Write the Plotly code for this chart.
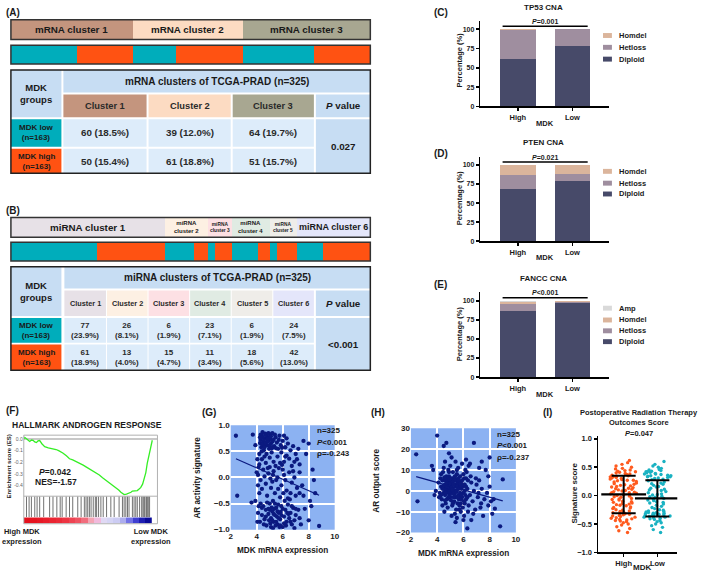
import plotly.graph_objects as go

W, H = 709, 577
FONT = "Arial, Liberation Sans, Helvetica, sans-serif"
TEAL = "#00adbb"
ORANGE = "#ff5212"
HEAD = "#c7ddf3"
CELL = "#ddecfa"
DARK = "#1a1a1a"

# ------------------------------------------------------------------ data
group_labels = ["MDK low<br>(n=163)", "MDK high<br>(n=163)"]

mrna_bar_labels = ["mRNA cluster 1", "mRNA cluster 2", "mRNA cluster 3"]
mrna_clusters = ["Cluster 1", "Cluster 2", "Cluster 3"]
mrna_colors = ["#c4957e", "#fcdbc2", "#a8a791"]
mrna_low = [60, 39, 64]
mrna_high = [50, 61, 51]
mrna_low_pct = ["18.5%", "12.0%", "19.7%"]
mrna_high_pct = ["15.4%", "18.8%", "15.7%"]
mrna_p = "0.027"
mrna_title = "mRNA clusters of TCGA-PRAD (n=325)"

mirna_bar_labels = ["miRNA cluster 1", "miRNA<br>cluster 2", "miRNA<br>cluster 3",
                    "miRNA<br>cluster 4", "miRNA<br>cluster 5", "miRNA cluster 6"]
mirna_clusters = ["Cluster 1", "Cluster 2", "Cluster 3", "Cluster 4", "Cluster 5", "Cluster 6"]
mirna_colors = ["#e7e1e7", "#fdf0e3", "#fde0e4", "#e0ebe3", "#efede9", "#e4e6fa"]
mirna_low = [77, 26, 6, 23, 6, 24]
mirna_high = [61, 13, 15, 11, 18, 42]
mirna_low_pct = ["23.9%", "8.1%", "1.9%", "7.1%", "1.9%", "7.5%"]
mirna_high_pct = ["18.9%", "4.0%", "4.7%", "3.4%", "5.6%", "13.0%"]
mirna_p = "&lt;0.001"
mirna_title = "miRNA clusters of TCGA-PRAD (n=325)"

cna_groups = ["High", "Low"]
cna_names = ["Diploid", "Hetloss", "Homdel", "Amp"]
cna_colors = ["#474a69", "#9f8e9f", "#dbb59c", "#d9d9d9"]
tp53_diploid = [61, 78]
tp53_hetloss = [37.5, 22]
tp53_homdel = [1.5, 0]
pten_diploid = [69, 79]
pten_hetloss = [18, 9]
pten_homdel = [13, 12]
fancc_diploid = [86, 97]
fancc_hetloss = [10, 1]
fancc_homdel = [3, 1.5]
fancc_amp = [1, 0.5]

es_rank = [0.0, 0.008, 0.03, 0.046, 0.06, 0.072, 0.085, 0.098, 0.11, 0.123,
           0.14, 0.162, 0.19, 0.213, 0.23, 0.25, 0.27, 0.302, 0.33, 0.354,
           0.379, 0.40, 0.431, 0.46, 0.482, 0.52, 0.559, 0.585, 0.61, 0.64,
           0.662, 0.69, 0.713, 0.735, 0.752, 0.765, 0.777, 0.795, 0.815, 0.83,
           0.841, 0.86, 0.879, 0.895, 0.905, 0.92, 0.931, 0.945, 0.956, 0.967,
           0.977, 0.987, 0.995]
es_score = [0.0, 0.015, -0.005, -0.02, -0.008, -0.01, -0.025, -0.03, -0.015, -0.012,
            -0.04, -0.065, -0.075, -0.08, -0.085, -0.09, -0.1, -0.12, -0.145, -0.17,
            -0.18, -0.19, -0.21, -0.225, -0.24, -0.265, -0.29, -0.31, -0.335, -0.36,
            -0.38, -0.40, -0.42, -0.44, -0.46, -0.475, -0.48, -0.475, -0.47, -0.46,
            -0.45, -0.45, -0.445, -0.43, -0.42, -0.39, -0.35, -0.29, -0.21, -0.15,
            -0.09, -0.04, -0.01]
es_hits = [0.021, 0.041, 0.059, 0.085, 0.103, 0.123, 0.154, 0.2, 0.226, 0.256,
           0.282, 0.297, 0.328, 0.354, 0.379, 0.418, 0.444, 0.469, 0.482, 0.495,
           0.508, 0.521, 0.538, 0.554, 0.564, 0.579, 0.597, 0.615, 0.641, 0.674,
           0.7, 0.738, 0.764, 0.777, 0.79, 0.803, 0.815, 0.841, 0.854, 0.867,
           0.879, 0.897, 0.913, 0.923, 0.931, 0.938, 0.949, 0.956, 0.964, 0.974]
rank_metric = [1.0, 0.98, 0.96, 0.93, 0.9, 0.87, 0.84, 0.8, 0.76, 0.7,
               0.6, 0.52, 0.43, 0.38, 0.33, 0.27, 0.2, 0.12, 0.05, 0.0]
gsea_p = "<i>P</i>=0.042"
gsea_nes = "NES=-1.57"

ar_activity_points = [
    (2.4, 0.80), (2.5, -0.35), (3.7, 0.82), (3.9, 0.62), (3.6, -0.48), (3.9, -0.45), (4.1, -0.68),
    (8.8, -0.93), (8.5, -0.30), (8.4, -0.05), (8.3, 0.15), (8.0, 0.65), (8.1, -0.45), (8.2, -0.55),
    (8.0, -0.82), (7.6, 0.70), (7.8, 0.45), (7.7, -0.60), (7.4, -0.90), (6.9, -0.97), (7.2, 0.55),
    (7.5, -0.15),
    (4.3, 0.72), (4.4, 0.80), (4.5, 0.68), (4.6, 0.75), (4.7, 0.62), (4.8, 0.78), (4.9, 0.70),
    (5.0, 0.83), (5.1, 0.65), (5.2, 0.85), (5.3, 0.72), (4.35, 0.58), (4.55, 0.52), (4.75, 0.45),
    (4.95, 0.55), (5.15, 0.48), (5.35, 0.60), (5.45, 0.77), (5.55, 0.67), (5.65, 0.55), (5.75, 0.80),
    (5.85, 0.62), (6.0, 0.70), (6.2, 0.58), (6.4, 0.65), (6.6, 0.52), (6.8, 0.60), (7.0, 0.45),
    (4.45, 0.87), (4.65, 0.84), (4.85, 0.62), (5.05, 0.74), (5.25, 0.58), (4.25, 0.66), (4.5, 0.60),
    (5.6, 0.40), (5.9, 0.48), (6.3, 0.42), (6.5, 0.36), (4.6, 0.40), (4.4, 0.35), (5.0, 0.38),
    (5.3, 0.30), (4.2, 0.25), (4.7, 0.28), (5.8, 0.28), (6.1, 0.30), (6.7, 0.22), (7.1, 0.35),
    (7.3, 0.25),
    (4.1, 0.05), (4.3, -0.05), (4.5, 0.15), (4.7, -0.12), (4.9, 0.08), (5.1, -0.20), (5.3, 0.12),
    (5.5, -0.05), (5.7, 0.18), (5.9, -0.15), (6.1, 0.05), (6.3, -0.25), (6.5, 0.10), (6.7, -0.10),
    (6.9, 0.0), (7.1, -0.20), (7.3, -0.30), (4.2, -0.30), (4.4, -0.22), (4.6, 0.02), (4.8, -0.35),
    (5.0, 0.20), (5.2, -0.08), (5.4, -0.30), (5.6, 0.0), (5.8, -0.38), (6.0, 0.15), (6.2, -0.05),
    (6.4, -0.40), (6.6, -0.30), (6.8, 0.12), (7.0, -0.35), (5.05, -0.02), (5.45, 0.22), (5.25, 0.05),
    (4.85, 0.18), (5.65, -0.22), (6.05, -0.30), (4.15, 0.20), (5.95, 0.24),
    (4.5, -0.55), (4.7, -0.62), (4.9, -0.70), (5.0, -0.50), (5.1, -0.78), (5.2, -0.65), (5.3, -0.85),
    (5.4, -0.72), (5.5, -0.58), (5.6, -0.90), (5.7, -0.68), (5.8, -0.80), (5.9, -0.55), (6.0, -0.95),
    (6.1, -0.75), (6.2, -0.62), (6.3, -0.85), (6.4, -0.52), (6.5, -0.78), (6.6, -0.68), (6.7, -0.90),
    (6.8, -0.58), (7.0, -0.72), (7.2, -0.62), (4.6, -0.80), (4.8, -0.48), (5.05, -0.88), (5.25, -0.45),
    (5.35, -0.60), (5.55, -0.75), (5.75, -0.95), (5.85, -0.66), (5.15, -0.58), (4.95, -0.82),
    (4.4, -0.72), (4.3, -0.50), (6.25, -0.92), (6.45, -0.70), (6.9, -0.82), (7.3, -0.78), (5.45, -0.92),
    (5.65, -0.52), (6.15, -0.45), (6.55, -0.42), (4.75, -0.92),
    (4.3, 0.82), (4.4, 0.64), (4.5, 0.76), (4.6, 0.58), (4.7, 0.82), (4.8, 0.69), (4.9, 0.85),
    (5.0, 0.61), (5.1, 0.79), (5.2, 0.69), (5.4, 0.82), (5.5, 0.56), (5.7, 0.72), (4.25, 0.77),
    (4.55, 0.70), (4.85, 0.74), (5.15, 0.56), (4.65, 0.66), (4.38, 0.50), (6.1, 0.80), (6.3, 0.75),
    (5.95, 0.57),
    (5.0, -0.62), (5.1, -0.95), (5.2, -0.82), (5.3, -0.70), (5.4, -0.50), (5.5, -0.85), (5.6, -0.65),
    (5.7, -0.78), (5.8, -0.92), (5.9, -0.72), (6.0, -0.60), (6.1, -0.88), (4.9, -0.60), (4.7, -0.75),
    (4.55, -0.90), (6.35, -0.68), (6.6, -0.85), (5.25, -0.97), (4.4, -0.58), (4.25, -0.85),
    (4.2, 0.45), (4.1, -0.15), (4.05, 0.35), (4.15, -0.55), (4.0, 0.10), (4.05, -0.85), (6.2, 0.40),
    (6.7, -0.55), (6.9, 0.30), (7.0, -0.60), (7.3, 0.10), (7.6, -0.35),
]
ar_activity_fit = (0.62, -0.109)   # intercept, slope
ar_activity_stats = ["n=325", "<i>P</i>&lt;0.001", "ρ=-0.243"]

ar_output_points = [
    (2.4, 17.5), (2.5, -5), (4.0, 26.5), (4.7, 23), (4.5, 21.5), (6.8, 23), (8.0, 16), (9.0, 5.5),
    (8.8, -17), (6.3, -18), (8.2, -11), (8.4, -8.5), (3.6, 12), (3.7, 10), (7.7, 10), (7.9, 7),
    (8.1, -5), (8.3, -4), (7.5, -12), (5.4, -15), (6.0, -14), (5.1, -12), (4.9, 18), (5.1, 16),
    (4.6, 14), (6.2, 15), (6.5, 13), (7.2, 11), (7.4, 14), (3.9, 0), (3.8, -2),
    (4.3, 2), (4.4, 5), (4.5, -1), (4.6, 3), (4.7, 7), (4.8, 0), (4.9, 4), (5.0, -3), (5.1, 6),
    (5.2, 1), (5.3, -5), (5.4, 3), (5.5, 8), (5.6, -2), (5.7, 2), (5.8, -6), (5.9, 5), (6.0, -1),
    (6.1, 3), (6.2, -4), (6.3, 1), (6.4, -7), (4.35, -4), (4.45, 9), (4.55, 1), (4.65, -6),
    (4.75, 4), (4.85, 10), (4.95, -2), (5.05, 2), (5.15, -7), (5.25, 6), (5.35, 0), (5.45, -9),
    (5.55, 4), (5.65, -4), (5.75, 7), (5.85, 1), (5.95, -8), (6.05, 6), (6.15, -2), (6.25, 9),
    (6.35, -10), (4.25, 6), (4.4, -7), (4.5, 11), (4.6, -2), (4.7, 1), (4.8, -8), (4.9, 7),
    (5.0, 12), (5.1, -1), (5.2, 9), (5.3, 3), (5.4, -3), (5.5, 0), (5.6, 11), (5.7, -7), (5.8, 4),
    (5.9, -3), (6.0, 8), (6.1, -6), (6.2, 2), (6.5, -2), (6.6, 4), (6.7, -5), (6.8, 0), (6.9, -9),
    (7.0, 3), (7.1, -3), (7.2, 5), (7.3, -8), (7.4, 1), (7.6, -4), (6.55, 7), (6.75, -11),
    (6.95, 6), (7.15, -1), (7.35, -6), (4.2, -1), (4.3, 8), (4.55, -10), (4.75, -4), (4.95, 1),
    (5.15, 3), (5.35, -11), (5.55, -6), (5.75, -1), (5.95, 2), (6.15, 10), (6.35, 5), (4.65, 5),
    (4.85, -1), (5.05, 5), (5.25, -3), (5.45, 2), (5.65, 1), (5.85, -4), (6.05, -12), (5.0, 0),
    (5.3, 5), (5.6, 3), (4.8, 3), (5.2, -1), (5.5, -13), (5.8, -10), (6.4, 12), (4.1, 4),
    (4.15, -3), (7.8, -1), (7.9, -7), (8.0, 2), (6.6, -14), (5.9, 13), (5.4, 14),
    (4.5, 2.5), (4.6, 0.5), (4.7, 3.5), (4.8, 5.5), (4.9, -0.5), (5.0, 3.5), (5.1, 1.5), (5.2, 4.5),
    (5.3, -1.5), (5.4, 5.5), (5.5, 2), (5.6, 6), (5.7, -2.5), (5.8, 2.5), (4.55, 6.5), (4.65, -1),
    (4.75, 2), (4.85, -3), (4.95, 5.5), (5.05, -4.5), (5.15, 0.5), (5.25, 3), (5.35, 7), (5.45, -0.5),
    (5.55, -3), (5.65, 5), (5.75, 3.5), (5.85, -2), (4.4, 1), (4.3, -2), (6.0, 3), (6.1, 0), (6.2, 6),
    (6.3, -3), (4.9, 9), (5.2, -6), (5.5, 10), (5.7, -9), (4.6, -4.5), (6.05, -5),
]
ar_output_fit = (11.0, -1.75)
ar_output_stats = ["n=325", "<i>P</i>&lt;0.001", "ρ=-0.237"]

radiation_high = [0.62, 0.58, 0.55, 0.52, 0.50, 0.48, 0.47, 0.45, 0.44, 0.42, 0.41, 0.40, 0.38, 0.37,
                  0.36, 0.35, 0.34, 0.33, 0.32, 0.31, 0.30, 0.29, 0.28, 0.27, 0.26, 0.25, 0.24, 0.22,
                  0.21, 0.20, 0.19, 0.18, 0.16, 0.15, 0.14, 0.13, 0.12, 0.11, 0.10, 0.09, 0.08, 0.07,
                  0.06, 0.05, 0.04, 0.03, 0.02, 0.01, 0.00, -0.01, -0.02, -0.03, -0.05, -0.06, -0.07,
                  -0.08, -0.10, -0.11, -0.12, -0.13, -0.15, -0.16, -0.17, -0.18, -0.20, -0.21, -0.22,
                  -0.23, -0.25, -0.26, -0.27, -0.28, -0.30, -0.31, -0.32, -0.33, -0.34, -0.35, -0.36,
                  -0.37, -0.38, -0.39, -0.40, -0.41, -0.42, -0.43, -0.44, -0.45, -0.46, -0.48, -0.50,
                  -0.52, -0.55, -0.58, -0.62, -0.65, 0.39, 0.43, 0.27, -0.29, 0.33, 0.05, -0.14, 0.17]
radiation_low = [0.60, 0.55, 0.52, 0.50, 0.48, 0.46, 0.45, 0.44, 0.43, 0.42, 0.41, 0.40, 0.39, 0.38,
                 0.37, 0.36, 0.35, 0.34, 0.33, 0.32, 0.31, 0.30, 0.28, 0.26, 0.24, 0.22, 0.20, 0.18,
                 0.15, 0.13, 0.11, 0.09, 0.07, 0.05, 0.03, 0.01, -0.01, -0.03, -0.05, -0.07, -0.09,
                 -0.11, -0.13, -0.15, -0.17, -0.19, -0.21, -0.23, -0.25, -0.27, -0.28, -0.29, -0.30,
                 -0.31, -0.31, -0.32, -0.32, -0.33, -0.33, -0.34, -0.34, -0.35, -0.35, -0.36, -0.36,
                 -0.37, -0.38, -0.39, -0.40, -0.41, -0.42, -0.44, -0.46, -0.48, -0.50, -0.53, -0.56,
                 -0.60, -0.65, 0.35, 0.38, 0.42, 0.29, 0.33, -0.38, -0.30, -0.26, -0.12, 0.02, 0.16,
                 -0.08, 0.21, -0.02, 0.10]
radiation_mean = [0.02, -0.05]
radiation_sd = [0.33, 0.32]

# ------------------------------------------------------------------ helpers
fig = go.Figure()
shapes, anns, lay = [], [], {}


def PX(p):
    return p / W


def PY(p):
    return 1 - p / H


def ax_names(n):
    s = "" if n == 1 else str(n)
    return "xaxis" + s, "yaxis" + s, "x" + s, "y" + s


def make_axes(n, x0, x1, y0, y1, xa=None, ya=None):
    xn, yn, xr, yr = ax_names(n)
    xd = dict(visible=False, fixedrange=True, showgrid=False, zeroline=False)
    xd.update(xa or {})
    xd.update(domain=[PX(x0), PX(x1)], anchor=yr)
    yd = dict(visible=False, fixedrange=True, showgrid=False, zeroline=False)
    yd.update(ya or {})
    yd.update(domain=[PY(y1), PY(y0)], anchor=xr)
    lay[xn] = xd
    lay[yn] = yd
    return xr, yr


def txt(x, y, s, size=8, xanchor="center", yanchor="middle", color=DARK, angle=0,
        bold=True, xref="paper", yref="paper", align="center"):
    if xref == "paper":
        x = PX(x)
    if yref == "paper":
        y = PY(y)
    anns.append(dict(x=x, y=y, xref=xref, yref=yref, text=s, showarrow=False,
                     xanchor=xanchor, yanchor=yanchor, textangle=angle, align=align,
                     borderpad=0,
                     font=dict(family=FONT, size=size, color=color,
                               weight="bold" if bold else "normal")))


def rect(x0, y0, x1, y1, fill, line_color=None, lw=0):
    shapes.append(dict(type="rect", xref="paper", yref="paper",
                       x0=PX(x0), x1=PX(x1), y0=PY(y1), y1=PY(y0),
                       fillcolor=fill, layer="above",
                       line=dict(width=lw, color=line_color or "rgba(0,0,0,0)")))


def cell(x0, y0, x1, y1, fill, s=None, size=8.5, color=DARK, bold=True):
    rect(x0, y0, x1, y1, fill)
    if s is not None:
        txt((x0 + x1) / 2, (y0 + y1) / 2, s, size=size, color=color, bold=bold)


def tick_font(size=7.5):
    return dict(family=FONT, size=size, color=DARK, weight="bold")


# ------------------------------------------------------------------ A / B strips
def cluster_bar(n, y0, y1, totals, colors, labels, sizes):
    xr, yr = make_axes(n, 9, 372, y0, y1, xa=dict(range=[0, sum(totals)]),
                       ya=dict(range=[-0.5, 0.5]))
    start = 0
    for t, c, lab, fs in zip(totals, colors, labels, sizes):
        fig.add_trace(go.Bar(x=[t], y=[0], orientation="h", width=1,
                             marker=dict(color=c, line=dict(width=0)),
                             xaxis=xr, yaxis=yr, showlegend=False, hoverinfo="skip"))
        txt(start + t / 2, 0, lab, size=fs, xref=xr, yref=yr)
        start += t
    shapes.append(dict(type="rect", xref=xr + " domain", yref=yr + " domain", x0=0, x1=1,
                       y0=0, y1=1, line=dict(color="#333", width=1.5), layer="above"))


def group_strip(n, y0, y1, lows, highs):
    total = sum(lows) + sum(highs)
    xr, yr = make_axes(n, 9, 372, y0, y1, xa=dict(range=[0, total]),
                       ya=dict(range=[-0.5, 0.5]))
    for lo, hi in zip(lows, highs):
        for v, c in ((lo, TEAL), (hi, ORANGE)):
            fig.add_trace(go.Bar(x=[v], y=[0], orientation="h", width=1,
                                 marker=dict(color=c, line=dict(width=0)),
                                 xaxis=xr, yaxis=yr, showlegend=False, hoverinfo="skip"))
    shapes.append(dict(type="rect", xref=xr + " domain", yref=yr + " domain", x0=0, x1=1,
                       y0=0, y1=1, line=dict(color="#333", width=1.5), layer="above"))


def table(cols, rows, title, clusters, ccolors, lows, lows_pct, highs, highs_pct, pval,
          sub_size, val_size, two_line):
    gx0, gx1 = cols[0]
    cell(gx0, rows[0][0], gx1, rows[1][1], HEAD, "MDK<br>groups", 9.5)
    cell(cols[1][0], rows[0][0], cols[-1][1], rows[0][1], HEAD, title, 10)
    sep = "<br>" if two_line else " "
    for i, name in enumerate(clusters):
        c0, c1 = cols[i + 1]
        cell(c0, rows[1][0], c1, rows[1][1], ccolors[i], name, sub_size, color="#2a2a2a")
        cell(c0, rows[2][0], c1, rows[2][1], CELL, f"{lows[i]}{sep}({lows_pct[i]})", val_size,
             color="#2a2a2a")
        cell(c0, rows[3][0], c1, rows[3][1], CELL, f"{highs[i]}{sep}({highs_pct[i]})", val_size,
             color="#2a2a2a")
    p0, p1 = cols[-1]
    cell(p0, rows[1][0], p1, rows[1][1], HEAD, "<i>P</i> value", 9.8)
    cell(p0, rows[2][0], p1, rows[3][1], HEAD, pval, 9.8)
    cell(gx0, rows[2][0], gx1, rows[2][1], TEAL, group_labels[0], 8)
    cell(gx0, rows[3][0], gx1, rows[3][1], ORANGE, group_labels[1], 8)
    rect(gx0, rows[0][0], cols[-1][1], rows[-1][1], "rgba(0,0,0,0)", "#222", 1.5)


cluster_bar(1, 16, 36, [a + b for a, b in zip(mrna_low, mrna_high)], mrna_colors,
            mrna_bar_labels, [9.8, 9.8, 9.8])
group_strip(2, 42, 61, mrna_low, mrna_high)
table([(9, 60), (62, 146), (148, 231), (233, 315), (317, 372)],
      [(67, 90), (92, 115), (117, 145), (147, 172)],
      mrna_title, mrna_clusters, mrna_colors, mrna_low, mrna_low_pct, mrna_high,
      mrna_high_pct, mrna_p, 9.3, 9.8, False)

cluster_bar(3, 217, 237, [a + b for a, b in zip(mirna_low, mirna_high)], mirna_colors,
            mirna_bar_labels, [9.8, 6, 4.8, 6, 4.8, 9])
group_strip(4, 242, 261, mirna_low, mirna_high)
table([(9, 60), (63, 105), (106, 147), (148, 189), (190, 231), (232, 273), (274, 315), (317, 372)],
      [(267, 289), (291, 317), (319, 344), (346, 372)],
      mirna_title, mirna_clusters, mirna_colors, mirna_low, mirna_low_pct, mirna_high,
      mirna_high_pct, mirna_p, 7.3, 8, True)

txt(3, 9, "(A)", 10, xanchor="left")
txt(3, 210, "(B)", 10, xanchor="left")

# ------------------------------------------------------------------ C / D / E
cna_panels = [
    (5, 17, 104, "TP53 CNA", 4, [tp53_diploid, tp53_hetloss, tp53_homdel], "<i>P</i>=0.001",
     [32, 44, 56], 57, 121, 9, "(C)"),
    (6, 155, 241, "PTEN CNA", 141, [pten_diploid, pten_hetloss, pten_homdel], "<i>P</i>=0.021",
     [170, 182, 193], 197, 258, 152, "(D)"),
    (7, 293, 379, "FANCC CNA", 279, [fancc_diploid, fancc_hetloss, fancc_homdel, fancc_amp],
     "<i>P</i>&lt;0.001", [309, 321, 332, 343], 335, 397, 285, "(E)"),
]
axis_line = dict(visible=True, showline=True, linecolor="black", linewidth=1.5, ticks="outside",
                 ticklen=3, tickwidth=1.5, tickcolor="black", showgrid=False, zeroline=False)
for n, ytop, yzero, title, ty, series, pval, leg_rows, ytitle_y, mdk_y, lab_y, lab in cna_panels:
    xa = dict(axis_line, type="category", categoryorder="array", categoryarray=cna_groups,
              range=[-0.69, 1.67], tickfont=tick_font(7.5))
    ya = dict(axis_line, range=[0, 111], tickvals=[0, 25, 50, 75, 100], tickfont=tick_font(7))
    xr, yr = make_axes(n, 483, 613, ytop, yzero, xa, ya)
    for vals, name, color in zip(series, cna_names, cna_colors):
        fig.add_trace(go.Bar(x=cna_groups, y=vals, width=0.65, name=name,
                             marker=dict(color=color, line=dict(width=0)),
                             xaxis=xr, yaxis=yr, showlegend=False, hoverinfo="skip"))
    shapes.append(dict(type="line", xref=xr, yref=yr, x0=-0.28, x1=1.28, y0=104, y1=104,
                       line=dict(color="black", width=1.5)))
    txt(0.5, 104.5, pval, 7, yanchor="bottom", xref=xr, yref=yr)
    txt(547, ty, title, 8)
    txt(462, ytitle_y, "Percentage (%)", 7.5, angle=-90)
    txt(548, mdk_y, "MDK", 7.5)
    txt(443, lab_y, lab, 10)
    k = len(series)
    for row_y, name, color in zip(leg_rows, list(reversed(cna_names[:k])),
                                  list(reversed(cna_colors[:k]))):
        rect(607, row_y - 2.5, 616, row_y + 2.5, color)
        txt(622, row_y, name, 7.5, xanchor="left")

# ------------------------------------------------------------------ F (GSEA)
xr, yr = make_axes(8, 22, 157, 438, 500, xa=dict(range=[0, 1.035]),
                   ya=dict(visible=True, range=[-0.494, 0.034], tickvals=[0, -0.1, -0.2, -0.3, -0.4],
                           ticktext=["0.0", "-0.1", "-0.2", "-0.3", "-0.4"], showticklabels=True,
                           tickfont=dict(family=FONT, size=5, color="#666"), ticks="",
                           zeroline=True, zerolinecolor="#c8c8c8", zerolinewidth=1.5,
                           showgrid=False, showline=False))
fig.add_trace(go.Scatter(x=es_rank, y=es_score, mode="lines", line=dict(color="#35ee25", width=1.3),
                         xaxis=xr, yaxis=yr, showlegend=False, hoverinfo="skip"))
hx, hy = [], []
for h in es_hits:
    hx += [h, h, None]
    hy += [0, 1, None]
xr9, yr9 = make_axes(9, 22, 157, 500, 521.5, xa=dict(range=[0, 1.035]), ya=dict(range=[0, 1]))
fig.add_trace(go.Scatter(x=hx, y=hy, mode="lines", line=dict(color="rgba(20,20,20,0.6)", width=1),
                         xaxis=xr9, yaxis=yr9, showlegend=False, hoverinfo="skip"))
xr10, yr10 = make_axes(10, 22, 157, 521.5, 528, xa=dict(range=[0, 1.035]), ya=dict(range=[-0.5, 0.5]))
nb = len(rank_metric)
fig.add_trace(go.Heatmap(z=[rank_metric], x=[(i + 0.5) * 0.99 / nb for i in range(nb)], y=[0],
                         zmin=0, zmax=1, showscale=False, hoverinfo="skip",
                         colorscale=[[0, "#0a0a98"], [0.1, "#3232cc"], [0.2, "#7272e6"],
                                     [0.3, "#c6c6f2"], [0.42, "#dedcf6"], [0.5, "#f0c0e6"],
                                     [0.6, "#f4a4b4"], [0.72, "#f06272"], [0.86, "#ec2c3a"],
                                     [1, "#e5101c"]],
                         xaxis=xr10, yaxis=yr10))
rect(22, 438, 157, 528, "rgba(0,0,0,0)", "#b0b0b0", 1)
shapes.append(dict(type="line", xref="paper", yref="paper", x0=PX(22), x1=PX(157), y0=PY(500),
                   y1=PY(500), line=dict(color="#b0b0b0", width=1)))
txt(3, 413, "(F)", 10, xanchor="left")
txt(86, 428, "HALLMARK ANDROGEN RESPONSE", 8.5)
txt(7, 470, "Enrichment score (ES)", 6, angle=-90)
txt(54, 475, gsea_p, 8.5)
txt(55, 486, gsea_nes, 8.5)
txt(20, 541, "High MDK<br>expression", 7.5)
txt(150, 541, "Low MDK<br>expression", 7.5)

# ------------------------------------------------------------------ G / H scatter
NAVY = "#0b1a80"
BLUE_BG = "#8cb2f2"


def scatter_panel(n, x0, x1, y0, y1, pts, fit, yrange, yticks, fmt, stats, stat_x, stat_y):
    xa = dict(visible=True, range=[2, 10], tickvals=[2, 4, 6, 8, 10], showgrid=True,
              gridcolor="white", gridwidth=2, showline=False, ticks="", tickfont=tick_font(8))
    ya = dict(visible=True, range=yrange, tickvals=yticks, tickformat=fmt, showgrid=True,
              gridcolor="white", gridwidth=2, zeroline=True, zerolinecolor="white",
              zerolinewidth=2, showline=False, ticks="", tickfont=tick_font(8))
    xr, yr = make_axes(n, x0, x1, y0, y1, xa, ya)
    shapes.append(dict(type="rect", xref=xr + " domain", yref=yr + " domain", x0=0, x1=1, y0=0,
                       y1=1, fillcolor=BLUE_BG, line=dict(width=0), layer="below"))
    xs = [p[0] for p in pts]
    ys = [p[1] for p in pts]
    fig.add_trace(go.Scatter(x=xs, y=ys, mode="markers",
                             marker=dict(color=NAVY, size=4.3, line=dict(width=0)),
                             xaxis=xr, yaxis=yr, showlegend=False, hoverinfo="skip"))
    lx = [min(xs), max(xs)]
    fig.add_trace(go.Scatter(x=lx, y=[fit[0] + fit[1] * v for v in lx], mode="lines",
                             line=dict(color=NAVY, width=1.2), xaxis=xr, yaxis=yr,
                             showlegend=False, hoverinfo="skip"))
    for i, s in enumerate(stats):
        txt(stat_x, stat_y + 12 * i, s, 8, xanchor="left")


scatter_panel(11, 231, 336, 428, 534, ar_activity_points, ar_activity_fit, [-1, 1],
              [-1, -0.5, 0, 0.5, 1], ".1f", ar_activity_stats, 317, 433)
scatter_panel(12, 413, 519, 431, 537, ar_output_points, ar_output_fit, [-20, 30],
              [-20, -10, 0, 10, 20, 30], "d", ar_output_stats, 499, 437)
txt(209, 415, "(G)", 10)
txt(380, 415, "(H)", 10)
txt(197, 481, "AR activity signature", 8.2, angle=-90)
txt(283, 555, "MDK mRNA expression", 8.2)
txt(378, 484, "AR output score", 8.2, angle=-90)
txt(466, 558, "MDK mRNA expression", 8.2)

# ------------------------------------------------------------------ I
xa = dict(axis_line, type="category", categoryorder="array", categoryarray=cna_groups,
          range=[-0.76, 1.59], tickfont=tick_font(7.5))
ya = dict(axis_line, range=[-1, 1.047], tickvals=[-1, -0.5, 0, 0.5, 1], tickformat=".1f",
          tickfont=tick_font(7.5))
xr, yr = make_axes(13, 602, 682, 439, 557, xa, ya)
for grp, vals, color in ((cna_groups[0], radiation_high, "#ff5a1e"),
                         (cna_groups[1], radiation_low, "#1ab2c2")):
    fig.add_trace(go.Box(x=[grp] * len(vals), y=vals, boxpoints="all", jitter=1, pointpos=0,
                         width=0.85, fillcolor="rgba(0,0,0,0)",
                         line=dict(color="rgba(0,0,0,0)", width=0),
                         marker=dict(color=color, size=3.4), xaxis=xr, yaxis=yr,
                         showlegend=False, hoverinfo="skip"))
fig.add_trace(go.Scatter(x=cna_groups, y=radiation_mean, mode="markers",
                         marker=dict(symbol="line-ew", size=32, color="black",
                                     line=dict(color="black", width=2.2)),
                         error_y=dict(type="data", array=radiation_sd, width=12, thickness=2,
                                      color="black"),
                         xaxis=xr, yaxis=yr, showlegend=False, hoverinfo="skip"))
txt(551, 415, "(I)", 10)
txt(643, 415, "Postoperative Radiation Therapy", 7.5)
txt(643, 425.5, "Outcomes Score", 7.5)
txt(643, 436.5, "<i>P</i>=0.047", 7.5)
txt(578, 497, "Signature score", 8, angle=-90)
txt(646, 572, "MDK", 8)

# ------------------------------------------------------------------ layout
fig.update_layout(width=W, height=H, autosize=False, margin=dict(l=0, r=0, t=0, b=0),
                  paper_bgcolor="white", plot_bgcolor="rgba(0,0,0,0)", barmode="stack",
                  showlegend=False, shapes=shapes, annotations=anns,
                  font=dict(family=FONT, color=DARK), **lay)
fig.write_html("out.html", config={"displayModeBar": False, "staticPlot": True},
               post_script="document.body.style.margin='0';document.body.style.padding='0';")
